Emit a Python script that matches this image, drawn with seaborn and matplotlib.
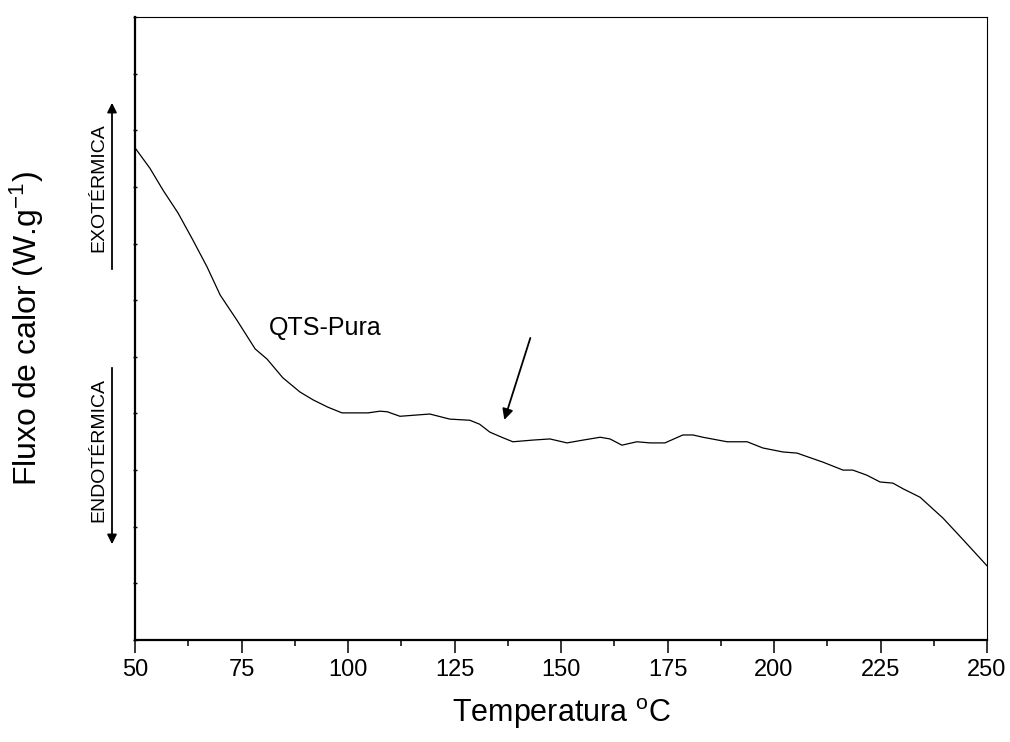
import numpy as np
import pandas as pd
import matplotlib
matplotlib.use('Agg')
import matplotlib.pyplot as plt
from matplotlib.ticker import MultipleLocator
import seaborn as sns

# curva DSC (temperatura em °C, fluxo em unidades arbitrárias)
temperatura = [50.0, 53.5, 56.6, 60.1, 63.6, 66.9, 70.0, 73.9, 78.2, 81.0,
               84.7, 88.7, 91.8, 95.3, 98.6, 101.6, 104.7, 107.5, 109.2, 112.2,
               115.7, 119.2, 123.9, 128.6, 130.9, 133.3, 136.4, 138.7, 143.4, 147.4,
               151.4, 155.2, 159.2, 161.5, 164.3, 167.8, 170.9, 174.4, 178.6, 181.0,
               183.3, 189.0, 193.7, 197.4, 202.1, 205.4, 211.5, 216.2, 218.5, 221.8,
               224.9, 227.9, 230.3, 234.3, 239.7, 244.4, 250.0]
fluxo = [8.69, 8.33, 7.94, 7.54, 7.06, 6.59, 6.09, 5.65, 5.14, 4.96,
         4.63, 4.38, 4.24, 4.11, 4.01, 4.01, 4.01, 4.04, 4.03, 3.95,
         3.97, 3.99, 3.90, 3.88, 3.81, 3.67, 3.57, 3.50, 3.53, 3.55,
         3.48, 3.53, 3.58, 3.55, 3.44, 3.50, 3.48, 3.48, 3.62, 3.62,
         3.58, 3.50, 3.50, 3.39, 3.32, 3.30, 3.14, 3.00, 3.00, 2.91,
         2.79, 2.77, 2.67, 2.52, 2.15, 1.77, 1.31]

x_ticks = [50, 75, 100, 125, 150, 175, 200, 225, 250]

df = pd.DataFrame({'T': temperatura, 'Q': fluxo})

sns.set_style('ticks', {'axes.edgecolor': 'black', 'xtick.color': 'black',
                        'ytick.color': 'black', 'text.color': 'black',
                        'axes.labelcolor': 'black'})
plt.rcParams['font.family'] = ['Liberation Sans', 'DejaVu Sans']
plt.rcParams['mathtext.fontset'] = 'custom'
plt.rcParams['mathtext.rm'] = 'Liberation Sans'
plt.rcParams['mathtext.it'] = 'Liberation Sans'

fig = plt.figure(figsize=(10.1, 7.42), dpi=100)
ax = fig.add_axes([135 / 1010, 1 - 640 / 742, 852 / 1010, 623 / 742])

sns.lineplot(data=df, x='T', y='Q', ax=ax, color='black', linewidth=0.9)

ax.set_xlim(50, 250)
ax.set_ylim(0, 11)
ax.set_xticks(x_ticks)
ax.xaxis.set_minor_locator(MultipleLocator(12.5))
ax.yaxis.set_major_locator(MultipleLocator(1))
ax.set_yticklabels([])

for s in ['left', 'bottom']:
    ax.spines[s].set_linewidth(1.6)
for s in ['top', 'right']:
    ax.spines[s].set_linewidth(0.8)
    ax.spines[s].set_visible(True)

ax.tick_params(axis='x', which='major', direction='out', length=9, width=1.1,
               labelsize=17, pad=5, colors='black')
ax.tick_params(axis='x', which='minor', direction='out', length=4.5, width=1.1,
               colors='black')
ax.tick_params(axis='y', which='major', direction='inout', length=3, width=1.0,
               colors='black')

ax.set_xlabel('Temperatura $^{\\mathrm{o}}$C', fontsize=22, color='black')
ax.xaxis.set_label_coords(0.5, -0.09)
ax.set_ylabel('Fluxo de calor (W.g$^{\\mathrm{-1}}$)', fontsize=23, color='black')
ax.yaxis.set_label_coords(-0.104, 0.5)

# rótulo da curva e seta indicando a transição
ax.text(81.5, 5.5, 'QTS-Pura', fontsize=18, ha='left', va='center', color='black')
ax.annotate('', xy=(136.5, 3.84), xytext=(143.0, 5.38),
            arrowprops=dict(arrowstyle='-|>', color='black', lw=1.3,
                            mutation_scale=16))

# indicadores exo / endo fora dos eixos
fig.text(99 / 1010, 1 - 188 / 742, 'EXOTÉRMICA', rotation=90, fontsize=14,
         ha='center', va='center', color='black')
fig.text(99 / 1010, 1 - 450 / 742, 'ENDOTÉRMICA', rotation=90, fontsize=14,
         ha='center', va='center', color='black')
ax.annotate('', xy=(112, 742 - 100), xytext=(112, 742 - 272),
            xycoords='figure pixels', textcoords='figure pixels',
            arrowprops=dict(arrowstyle='-|>', color='black', lw=1.3,
                            mutation_scale=14))
ax.annotate('', xy=(112, 742 - 547), xytext=(112, 742 - 365),
            xycoords='figure pixels', textcoords='figure pixels',
            arrowprops=dict(arrowstyle='-|>', color='black', lw=1.3,
                            mutation_scale=14))

fig.savefig('out.png', dpi=100)
